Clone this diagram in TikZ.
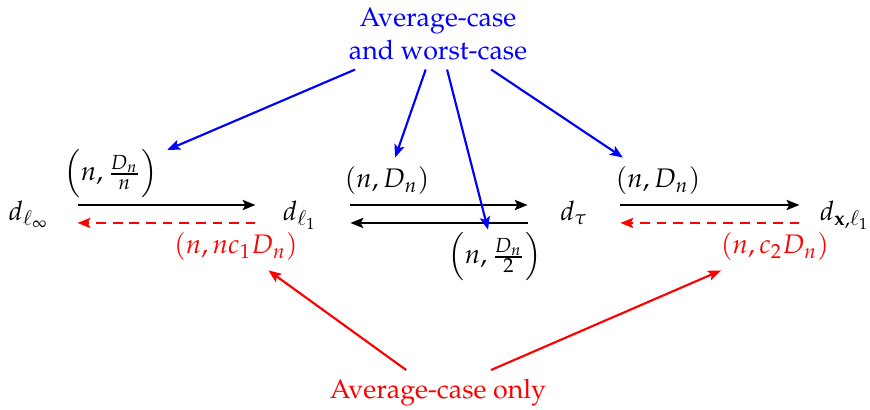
\documentclass[tikz,border=0pt]{standalone}
\usepackage[T1]{fontenc}
\usepackage{mathpazo}
\usetikzlibrary{arrows.meta}
\begin{document}
\begin{tikzpicture}[x=0.373pt,y=-0.373pt,
  conn/.style={line width=0.8pt,-{Stealth[length=4.8pt,width=3.8pt,inset=1pt]}},
  blkarr/.style={conn,black},
  redarr/.style={conn,red},
  dasharr/.style={conn,red,dash pattern=on 3.6pt off 2.6pt},
  bluearr/.style={conn,blue},
  dnode/.style={anchor=base,inner sep=0pt,minimum width=32.8pt},
  lab/.style={inner sep=3.33pt},
  ]
\useasboundingbox (0,0) rectangle (870,409);

\node[blue,align=center,font=\fontsize{10pt}{12.3pt}\selectfont] (top) at (438,34) {Average-case\\and worst-case};
\node[red] (bot) at (438,393) {Average-case only};

\node[dnode] (dinf) at (29,220) {$d_{\ell_\infty}$};
\node[dnode] (dl1) at (300,220) {$d_{\ell_1}$};
\node[dnode] (dtau) at (574,220) {$d_{\tau}$};
\node[dnode] (dx) at (845,220) {$d_{\mathbf{x},\ell_1}$};

\node[lab] (l1) at (111,174) {$\left(n,\frac{D_n}{n}\right)$};
\node[lab,red] (r1) at (236,247) {$(n,nc_1D_n)$};
\node[lab] (l2) at (387,181) {$(n,D_n)$};
\node[lab,inner sep=1pt] (l3) at (495,257) {$\left(n,\frac{D_n}{2}\right)$};
\node[lab] (l4) at (658,181) {$(n,D_n)$};
\node[lab,red] (r2) at (775,247) {$(n,c_2D_n)$};

\draw[blkarr] ([xshift=1.5pt,yshift=5.6pt]dinf.base east) -- ([yshift=5.6pt]dl1.base west);
\draw[dasharr] ([yshift=-1.1pt]dl1.base west) -- ([xshift=1.5pt,yshift=-1.1pt]dinf.base east);
\draw[blkarr] ([xshift=2.2pt,yshift=5.6pt]dl1.base east) -- ([xshift=-0.7pt,yshift=5.6pt]dtau.base west);
\draw[blkarr] ([xshift=-0.7pt,yshift=-1.1pt]dtau.base west) -- ([xshift=2.2pt,yshift=-1.1pt]dl1.base east);
\draw[blkarr] ([xshift=0.7pt,yshift=5.6pt]dtau.base east) -- ([xshift=-0.4pt,yshift=5.6pt]dx.base west);
\draw[dasharr] ([xshift=-0.4pt,yshift=-1.1pt]dx.base west) -- ([xshift=0.7pt,yshift=-1.1pt]dtau.base east);

\draw[bluearr] (top) -- (l1);
\draw[bluearr] (top) -- (l2);
\draw[bluearr] (top) -- (l3);
\draw[bluearr] (top) -- (l4);
\draw[redarr] (bot) -- (r1);
\draw[redarr] (bot) -- (r2);
\end{tikzpicture}
\end{document}
